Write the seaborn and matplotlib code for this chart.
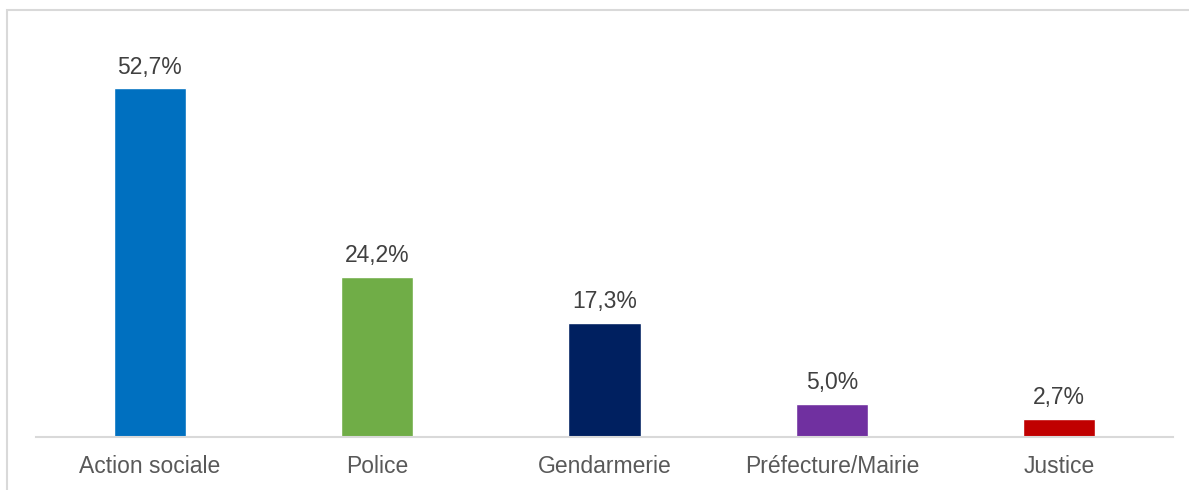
import matplotlib
matplotlib.use("Agg")
import matplotlib.pyplot as plt
import seaborn as sns
import pandas as pd
from matplotlib.patches import Rectangle

categories = ["Action sociale", "Police", "Gendarmerie", "Préfecture/Mairie", "Justice"]
values = [52.7, 24.2, 17.3, 5.0, 2.7]
labels = ["52,7%", "24,2%", "17,3%", "5,0%", "2,7%"]
colors = ["#0070C0", "#70AD47", "#002060", "#7030A0", "#C00000"]

sns.set_theme(style="white")
plt.rcParams["font.family"] = ["Liberation Sans", "DejaVu Sans"]

W, H = 1189, 490
fig = plt.figure(figsize=(W / 100, H / 100), dpi=100)
ax = fig.add_axes([36 / W, (H - 437) / H, (1173 - 36) / W, (437 - 40) / H])

df = pd.DataFrame({"cat": categories, "val": values})
sns.barplot(data=df, x="cat", y="val", hue="cat", palette=colors, legend=False,
            width=0.317, ax=ax, saturation=1)

ax.set_ylim(0, 60)
ax.set_xlim(-0.5, len(categories) - 0.5)
ax.set_xlabel("")
ax.set_ylabel("")
ax.set_yticks([])
for s in ["top", "left", "right"]:
    ax.spines[s].set_visible(False)
ax.spines["bottom"].set_color("#D9D9D9")
ax.spines["bottom"].set_linewidth(1.5)
ax.tick_params(axis="x", length=0, pad=13, labelsize=16.5, labelcolor="#595959")

for i, (v, lab) in enumerate(zip(values, labels)):
    ax.annotate(lab, (i, v), xytext=(0, 7), textcoords="offset points",
                ha="center", va="bottom", fontsize=16.5, color="#404040")

# chart frame
fig.patches.append(Rectangle((7 / W, -0.1), 1.2, (H - 10) / H + 0.1,
                             transform=fig.transFigure, fill=False,
                             edgecolor="#D9D9D9", linewidth=1.5))

fig.savefig("out.png", dpi=100)
